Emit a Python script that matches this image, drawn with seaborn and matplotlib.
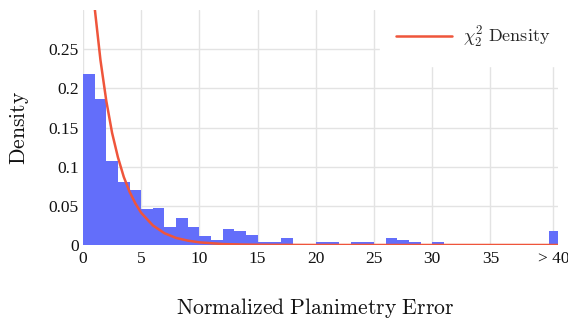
import numpy as np
import pandas as pd
import matplotlib
matplotlib.use("Agg")
import matplotlib.pyplot as plt
import seaborn as sns

# Histogram bins (width 1), last bin represents "> 40"
bin_left = list(range(0, 40)) + [40]
density = [0.218, 0.187, 0.107, 0.080, 0.070, 0.046, 0.047, 0.023, 0.034, 0.023,
           0.0115, 0.0064, 0.020, 0.018, 0.013, 0.004, 0.004, 0.009, 0.0, 0.0,
           0.004, 0.004, 0.0, 0.004, 0.004, 0.0, 0.009, 0.0064, 0.004, 0.0,
           0.004, 0.0015, 0.0, 0.0, 0.0, 0.0, 0.0015, 0.0015, 0.0, 0.0,
           0.018]

# Chi-square (2 dof) density curve
curve_x = [0, 0.5, 1, 1.5, 2, 2.5, 3, 3.5, 4, 4.5, 5, 6, 7, 8, 9, 10, 12, 14, 16, 20, 25, 30, 35, 41]
curve_y = [0.5, 0.389, 0.303, 0.236, 0.184, 0.143, 0.112, 0.087, 0.068, 0.053, 0.041,
           0.025, 0.015, 0.009, 0.0056, 0.0034, 0.0012, 0.0005, 0.0002, 0.00002, 0.0, 0.0, 0.0, 0.0]

xtick_pos = [0, 5, 10, 15, 20, 25, 30, 35, 40.4]
xtick_labels = ["0", "5", "10", "15", "20", "25", "30", "35", "> 40"]
ytick_pos = [0, 0.05, 0.1, 0.15, 0.2, 0.25]
ytick_labels = ["0", "0.05", "0.1", "0.15", "0.2", "0.25"]

sns.set_theme(style="white")
plt.rcParams["font.family"] = ["Liberation Serif", "DejaVu Serif"]
plt.rcParams["mathtext.fontset"] = "cm"

fig = plt.figure(figsize=(5.68, 3.22), dpi=100)
ax = fig.add_axes([83 / 568, 1 - 245 / 322, (558 - 83) / 568, (245 - 10) / 322])

hist_df = pd.DataFrame({"center": [b + 0.5 for b in bin_left], "density": density})
sns.barplot(data=hist_df, x="center", y="density", native_scale=True, width=1.0,
            color="#636EFA", saturation=1, linewidth=0, ax=ax, zorder=2)
curve_df = pd.DataFrame({"x": curve_x, "y": curve_y})
sns.lineplot(data=curve_df, x="x", y="y", color="#EF553B", linewidth=1.8, ax=ax,
             label=r"$\chi^2_2\ \mathrm{Density}$", zorder=3)

ax.set_xlim(0, 40.8)
ax.set_ylim(0, 0.3)
ax.set_xticks(xtick_pos)
ax.set_xticklabels(xtick_labels)
ax.set_yticks(ytick_pos)
ax.set_yticklabels(ytick_labels)
ax.grid(True, color="#e3e3e3", linewidth=1, zorder=0)
ax.set_axisbelow(True)
for s in ax.spines.values():
    s.set_visible(False)
ax.tick_params(axis="both", length=0, labelsize=12.5, colors="#111111")
ax.tick_params(axis="x", pad=4)
ax.tick_params(axis="y", pad=3)

ax.set_xlabel(r"$\mathrm{Normalized\ Planimetry\ Error}$", fontsize=15.6, labelpad=21, color="#111111")
ax.xaxis.label.set_x(0.489)
ax.set_ylabel(r"$\mathrm{Density}$", fontsize=15.6, labelpad=13, color="#111111")

leg = ax.legend(loc="upper right", bbox_to_anchor=(1.037, 1.045), frameon=True,
                fontsize=13, handlelength=3.1, handletextpad=0.6,
                borderpad=0.9, fancybox=False)
leg.get_frame().set_facecolor("white")
leg.get_frame().set_edgecolor("white")
leg.get_frame().set_alpha(1.0)
leg.set_zorder(5)

fig.savefig("out.png", dpi=100)
